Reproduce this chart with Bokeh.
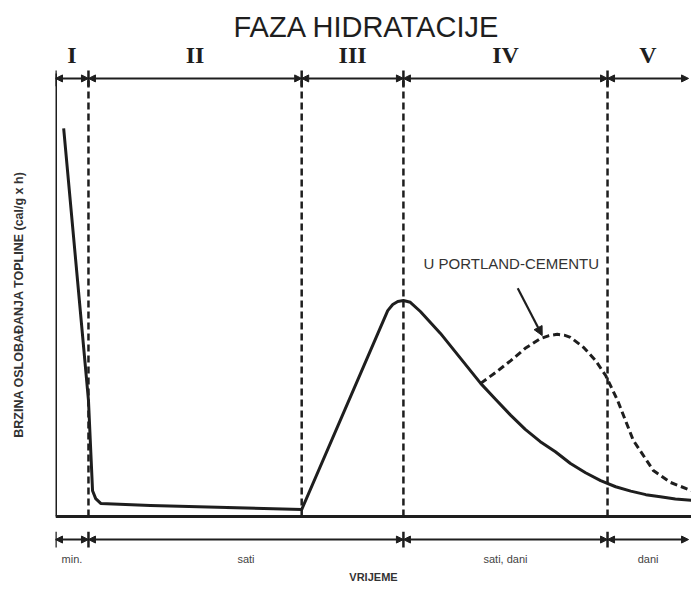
from bokeh.plotting import figure
from bokeh.models import Range1d, Arrow, NormalHead, ColumnDataSource, FixedTicker
from bokeh.core.properties import value
from bokeh.embed import file_html
from bokeh.resources import INLINE

# ---- data (arbitrary units) ----
main_x = [1.3, 5.25, 5.9, 6.4, 7.2, 15.1, 39.2, 52.9, 53.7, 54.5, 55.4, 56.5, 58.1, 61.3, 64.5, 67.7, 70.1,
          72.5, 74.8, 77.2, 79.6, 82.0, 84.4, 86.8, 89.2, 91.6, 94.0, 96.3, 98.7, 101.3]
main_y = [88.6, 26.5, 5.9, 4.1, 3.0, 2.5, 1.6, 47.0, 48.4, 49.1, 49.3, 48.9, 46.8, 41.8, 36.1, 30.4, 26.7,
          23.1, 19.9, 17.1, 14.8, 12.1, 10.0, 8.2, 6.8, 5.8, 5.0, 4.5, 4.0, 3.7]

pc_x = [67.7, 70.1, 72.5, 74.8, 77.2, 78.6, 79.9, 81.0, 82.0, 84.1, 86.0, 87.6, 89.5, 92.0, 95.2, 97.9, 101.3]
pc_y = [30.4, 32.9, 35.6, 38.4, 40.6, 41.3, 41.6, 41.4, 40.9, 38.6, 35.6, 32.2, 26.5, 17.4, 10.5, 7.8, 5.9]

phase_bounds = [0, 5.25, 39.2, 55.4, 87.9, 100.8]
phase_labels = ["I", "II", "III", "IV", "V"]
time_bounds = [0, 5.25, 55.4, 87.9, 100.8]
time_labels = ["min.", "sati", "sati, dani", "dani"]
divider_x = [5.25, 39.2, 55.4, 87.9]

note_text = "U PORTLAND-CEMENTU"
note_xy = [58.6, 57.8]
note_arrow = [73.6, 52.1, 77.5, 41.3]

TOP_Y = 100
BOT_Y = -5.25
INK = "#1e1e1e"

p = figure(width=691, height=590, output_backend="svg", toolbar_location=None,
           x_range=Range1d(0, 101.27), y_range=Range1d(-11.4, 108.2),
           min_border_left=55, min_border_right=0, min_border_top=42, min_border_bottom=24)
p.title.text = "FAZA HIDRATACIJE"
p.title.align = "left"
p.title.offset = 178
p.title.text_font = "Liberation Sans"
p.title.text_font_size = "29px"
p.title.text_font_style = "normal"
p.title.text_color = INK
p.title.standoff = 0
p.outline_line_color = None
p.xgrid.visible = False
p.ygrid.visible = False

for ax, lab, size, standoff in ((p.xaxis[0], "VRIJEME", "11px", 4),
                                (p.yaxis[0], "BRZINA OSLOBAĐANJA TOPLINE (cal/g x h)", "12.5px", 30)):
    ax.ticker = FixedTicker(ticks=[])
    ax.axis_line_color = None
    ax.major_tick_out = 0
    ax.major_tick_in = 0
    ax.minor_tick_out = 0
    ax.minor_tick_in = 0
    ax.major_label_standoff = 0
    ax.axis_label = lab
    ax.axis_label_text_font = "Liberation Sans"
    ax.axis_label_text_font_size = size
    ax.axis_label_text_font_style = "bold"
    ax.axis_label_text_color = "#333333"
    ax.axis_label_standoff = standoff

# axes frame lines
p.line([0, 0], [0, 101.1], line_color=INK, line_width=3)
p.line([0, 101.27], [0, 0], line_color=INK, line_width=3)

# dashed phase dividers
for dx in divider_x:
    p.line([dx, dx], [0, TOP_Y], line_color=INK, line_width=2.5, line_dash="7 4")

# bracket rows
def bracket_row(bounds, y):
    src = ColumnDataSource(dict(x0=bounds[:-1], x1=bounds[1:], y=[y] * (len(bounds) - 1)))
    p.add_layout(Arrow(x_start="x0", y_start="y", x_end="x1", y_end="y", source=src,
                       line_color=INK, line_width=2,
                       start=NormalHead(size=7, fill_color=INK, line_color=INK),
                       end=NormalHead(size=7, fill_color=INK, line_color=INK)))
    p.segment(x0=bounds[:-1], y0=[y - 1.8] * (len(bounds) - 1), x1=bounds[:-1], y1=[y + 1.8] * (len(bounds) - 1),
              line_color=INK, line_width=2.5)

bracket_row(phase_bounds, TOP_Y)
bracket_row(time_bounds, BOT_Y)

# phase numerals
mid_phase = [(a + b) / 2 for a, b in zip(phase_bounds[:-1], phase_bounds[1:])]
p.text(x=mid_phase, y=[105.3] * len(mid_phase), text=phase_labels, text_font=value("Liberation Serif"),
       text_font_size="24px", text_font_style="bold", text_align="center", text_baseline="middle",
       text_color=INK)

mid_time = [(a + b) / 2 for a, b in zip(time_bounds[:-1], time_bounds[1:])]
p.text(x=mid_time, y=[-9.6] * len(mid_time), text=time_labels, text_font=value("Liberation Sans"),
       text_font_size="11px", text_align="center", text_baseline="middle", text_color="#444444")

# curves
p.line(main_x, main_y, line_color=INK, line_width=3, line_join="round")
p.line(pc_x, pc_y, line_color=INK, line_width=3, line_dash="7 4", line_join="round")

# annotation
p.text(x=[note_xy[0]], y=[note_xy[1]], text=[note_text], text_font=value("Liberation Sans"),
       text_font_size="15px", text_align="left", text_baseline="middle", text_color="#333333")
p.add_layout(Arrow(x_start=note_arrow[0], y_start=note_arrow[1], x_end=note_arrow[2], y_end=note_arrow[3],
                   line_color=INK, line_width=2.2,
                   end=NormalHead(size=9, fill_color=INK, line_color=INK)))

open("out.html", "w").write(file_html(p, INLINE))
